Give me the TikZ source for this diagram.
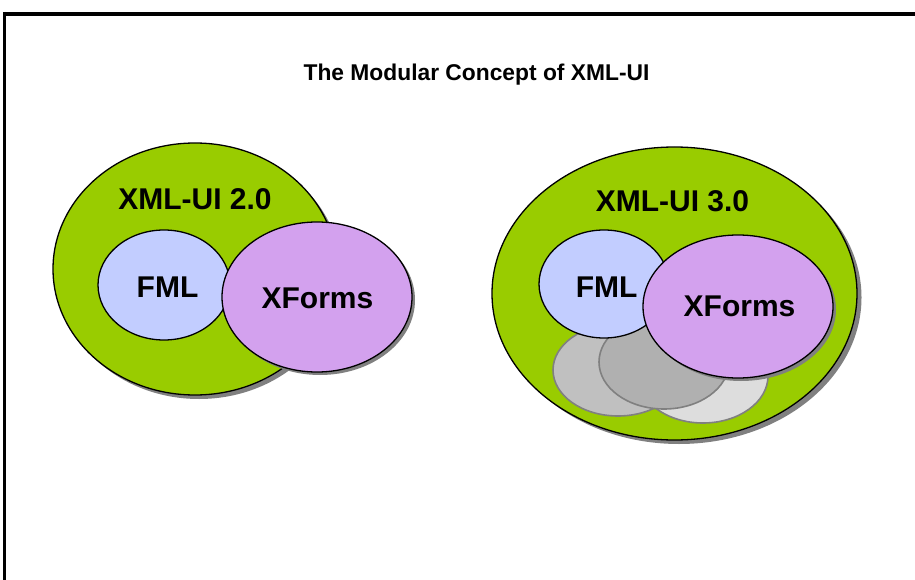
\documentclass[tikz,border=0pt]{standalone}
\usepackage{fontspec}
\setmainfont{Liberation Sans}
\usetikzlibrary{shapes.geometric}
\definecolor{leaf}{HTML}{99CC00}
\definecolor{fmlblue}{HTML}{C2CDFF}
\definecolor{xfpurple}{HTML}{D3A1EE}
\definecolor{shadowgray}{HTML}{808080}
\definecolor{greyA}{HTML}{DDDDDD}
\definecolor{greyB}{HTML}{C0C0C0}
\definecolor{greyC}{HTML}{B0B0B0}
\definecolor{greyline}{HTML}{808080}
\begin{document}
\begin{tikzpicture}[x=1pt,y=-1pt,
  blob/.style={ellipse, draw=black, line width=1.3pt, inner sep=0pt, outer sep=0pt},
  shadowblob/.style={ellipse, fill=shadowgray, draw=none, inner sep=0pt, outer sep=0pt},
  greyblob/.style={ellipse, draw=greyline, line width=1.6pt, inner sep=0pt, outer sep=0pt},
  bigtext/.style={font=\bfseries\fontsize{30}{30}\selectfont, anchor=base, inner sep=0pt},
  titletext/.style={font=\bfseries\fontsize{22.8}{23}\selectfont, anchor=base, inner sep=0pt}]
\useasboundingbox[fill=white] (0,0) rectangle (915,580);

% frame
\draw[line width=4pt] (4,14) -- (915,14);
\draw[line width=2.4pt] (4.5,12) -- (4.5,580);

% title
\node[titletext] (title) at (476.5,81) {The Modular Concept of XML-UI};

% ---- XML-UI 2.0 ----
\node[shadowblob, minimum width=284pt, minimum height=252pt] (gLs) at (199,273) {};
\node[blob, fill=leaf, minimum width=284pt, minimum height=252pt] (gL) at (195,269) {};
\node[blob, fill=fmlblue, minimum width=132pt, minimum height=110pt] (fL) at (164,285) {};
\node[shadowblob, minimum width=190pt, minimum height=150pt] (xLs) at (320,300) {};
\node[blob, fill=xfpurple, minimum width=190pt, minimum height=150pt] (xL) at (317,297) {};
\node[bigtext] (tgL) at (195,210) {XML-UI 2.0};
\node[bigtext] (tfL) at (167.5,297) {FML};
\node[bigtext] (txL) at (317.5,308) {XForms};

% ---- XML-UI 3.0 ----
\node[shadowblob, minimum width=365pt, minimum height=293pt] (gRs) at (679,297.5) {};
\node[blob, fill=leaf, minimum width=365pt, minimum height=293pt] (gR) at (674.5,293.5) {};
\node[greyblob, fill=greyA, minimum width=130pt, minimum height=94pt] (mA) at (703,376) {};
\node[greyblob, fill=greyB, minimum width=130pt, minimum height=92pt] (mB) at (618,370) {};
\node[greyblob, fill=greyC, minimum width=130pt, minimum height=94pt] (mC) at (664,362) {};
\node[blob, fill=fmlblue, minimum width=130pt, minimum height=108pt] (fR) at (604,284) {};
\node[shadowblob, minimum width=190pt, minimum height=143pt] (xRs) at (741,309.5) {};
\node[blob, fill=xfpurple, minimum width=190pt, minimum height=143pt] (xR) at (738,306.5) {};
\node[bigtext] (tgR) at (672.5,211.7) {XML-UI 3.0};
\node[bigtext] (tfR) at (606.7,297) {FML};
\node[bigtext] (txR) at (739.5,316.7) {XForms};
\end{tikzpicture}
\end{document}
